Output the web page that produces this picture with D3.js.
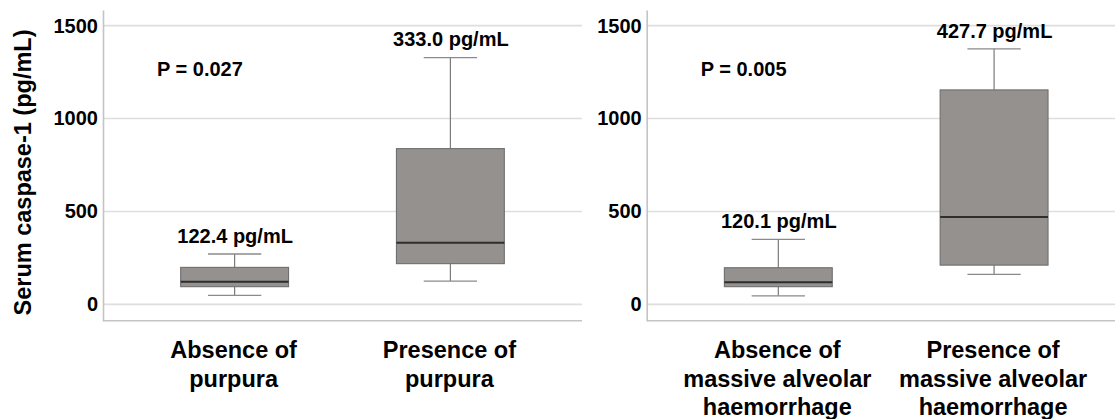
<!DOCTYPE html>
<html>
<head>
<meta charset="utf-8">
<script src="https://cdn.jsdelivr.net/npm/d3@7"></script>
<style>
  html, body { margin: 0; padding: 0; background: #fff; overflow: hidden; }
  svg { display: block; }
  text { font-family: "Liberation Sans", Arial, sans-serif; font-weight: bold; fill: #000; }
</style>
</head>
<body>
<svg id="chart" width="1115" height="419"></svg>
<script>
// ---- Data ----
const yTicks = [0, 500, 1000, 1500];
const yTitle = "Serum caspase-1 (pg/mL)";

const categoriesA = ["Absence of purpura", "Presence of purpura"];
const labelLinesA = [["Absence of", "purpura"], ["Presence of", "purpura"]];
const whiskerLowA = [48, 125];
const q1A = [95, 219];
const medianA = [121, 332];
const q3A = [199, 838];
const whiskerHighA = [271, 1328];
const medianLabelA = ["122.4 pg/mL", "333.0 pg/mL"];
const pLabelA = "P = 0.027";

const categoriesB = ["Absence of massive alveolar haemorrhage", "Presence of massive alveolar haemorrhage"];
const labelLinesB = [["Absence of", "massive alveolar", "haemorrhage"], ["Presence of", "massive alveolar", "haemorrhage"]];
const whiskerLowB = [46, 161];
const q1B = [95, 211];
const medianB = [119, 470];
const q3B = [197, 1154];
const whiskerHighB = [350, 1375];
const medianLabelB = ["120.1 pg/mL", "427.7 pg/mL"];
const pLabelB = "P = 0.005";

// ---- Layout ----
const svg = d3.select("#chart");
svg.append("rect").attr("width", 1115).attr("height", 419).attr("fill", "#fff");

const y = d3.scaleLinear().domain([-88, 1584]).range([320.7, 10]);
const PANEL_W = 479;

function drawPanel(x0, cats, lines, wLo, q1, med, q3, wHi, mLabels, pLabel) {
  const x = d3.scalePoint().domain(cats).range([x0, x0 + PANEL_W]).padding(0.61);
  const step = x.step();
  const boxW = step * 0.5;
  const capW = step * 0.247;
  const g = svg.append("g");

  // gridlines
  g.selectAll("line.grid").data(yTicks).join("line")
    .attr("x1", x0).attr("x2", x0 + PANEL_W)
    .attr("y1", d => y(d)).attr("y2", d => y(d))
    .attr("stroke", "#dedede").attr("stroke-width", 1.6);

  // y axis
  const ax = d3.axisLeft(y).tickValues(yTicks).tickSize(0).tickPadding(5).tickFormat(d3.format("d"));
  const axG = g.append("g").attr("transform", `translate(${x0},0)`).call(ax);
  axG.select(".domain").attr("stroke", "#c4c4c4").attr("stroke-width", 1.6);
  axG.selectAll("text").attr("font-size", 20).attr("font-family", "'Liberation Sans', Arial, sans-serif")
    .attr("font-weight", "bold").attr("fill", "#000");

  // x axis line
  g.append("line").attr("x1", x0).attr("x2", x0 + PANEL_W)
    .attr("y1", y.range()[0]).attr("y2", y.range()[0])
    .attr("stroke", "#c4c4c4").attr("stroke-width", 1.6);

  const idx = cats.map((c, i) => i);
  // whiskers
  g.selectAll("line.wup").data(idx).join("line")
    .attr("x1", i => x(cats[i])).attr("x2", i => x(cats[i]))
    .attr("y1", i => y(q3[i])).attr("y2", i => y(wHi[i]))
    .attr("stroke", "#7a7a7a").attr("stroke-width", 1.2);
  g.selectAll("line.wlo").data(idx).join("line")
    .attr("x1", i => x(cats[i])).attr("x2", i => x(cats[i]))
    .attr("y1", i => y(q1[i])).attr("y2", i => y(wLo[i]))
    .attr("stroke", "#7a7a7a").attr("stroke-width", 1.2);
  g.selectAll("line.capHi").data(idx).join("line")
    .attr("x1", i => x(cats[i]) - capW / 2).attr("x2", i => x(cats[i]) + capW / 2)
    .attr("y1", i => y(wHi[i])).attr("y2", i => y(wHi[i]))
    .attr("stroke", "#8a8a8a").attr("stroke-width", 1.3);
  g.selectAll("line.capLo").data(idx).join("line")
    .attr("x1", i => x(cats[i]) - capW / 2).attr("x2", i => x(cats[i]) + capW / 2)
    .attr("y1", i => y(wLo[i])).attr("y2", i => y(wLo[i]))
    .attr("stroke", "#8a8a8a").attr("stroke-width", 1.3);

  // boxes
  g.selectAll("rect.box").data(idx).join("rect")
    .attr("x", i => x(cats[i]) - boxW / 2).attr("width", boxW)
    .attr("y", i => y(q3[i])).attr("height", i => y(q1[i]) - y(q3[i]))
    .attr("fill", "#95918f").attr("stroke", "#6e6e6e").attr("stroke-width", 1.1);
  // medians
  g.selectAll("line.med").data(idx).join("line")
    .attr("x1", i => x(cats[i]) - boxW / 2).attr("x2", i => x(cats[i]) + boxW / 2)
    .attr("y1", i => y(med[i])).attr("y2", i => y(med[i]))
    .attr("stroke", "#2e2e2e").attr("stroke-width", 2);

  // median value labels
  g.selectAll("text.mlab").data(idx).join("text")
    .attr("x", i => x(cats[i]) + 0.5).attr("y", i => y(wHi[i]) - 11.3)
    .attr("text-anchor", "middle").attr("font-size", 20)
    .text(i => mLabels[i]);

  // P value
  g.append("text").attr("x", x0 + 54).attr("y", y(1229))
    .attr("font-size", 20).text(pLabel);

  // category labels
  idx.forEach(i => {
    const t = g.append("text").attr("text-anchor", "middle").attr("font-size", 23.5);
    lines[i].forEach((ln, k) => {
      t.append("tspan").attr("x", x(cats[i]) - 1).attr("y", 358 + k * 28.5).text(ln);
    });
  });
}

drawPanel(103, categoriesA, labelLinesA, whiskerLowA, q1A, medianA, q3A, whiskerHighA, medianLabelA, pLabelA);
drawPanel(646.7, categoriesB, labelLinesB, whiskerLowB, q1B, medianB, q3B, whiskerHighB, medianLabelB, pLabelB);

// y axis title
svg.append("text")
  .attr("transform", "translate(30.5,172.5) rotate(-90)")
  .attr("text-anchor", "middle").attr("font-size", 23.5)
  .text(yTitle);
</script>
</body>
</html>
